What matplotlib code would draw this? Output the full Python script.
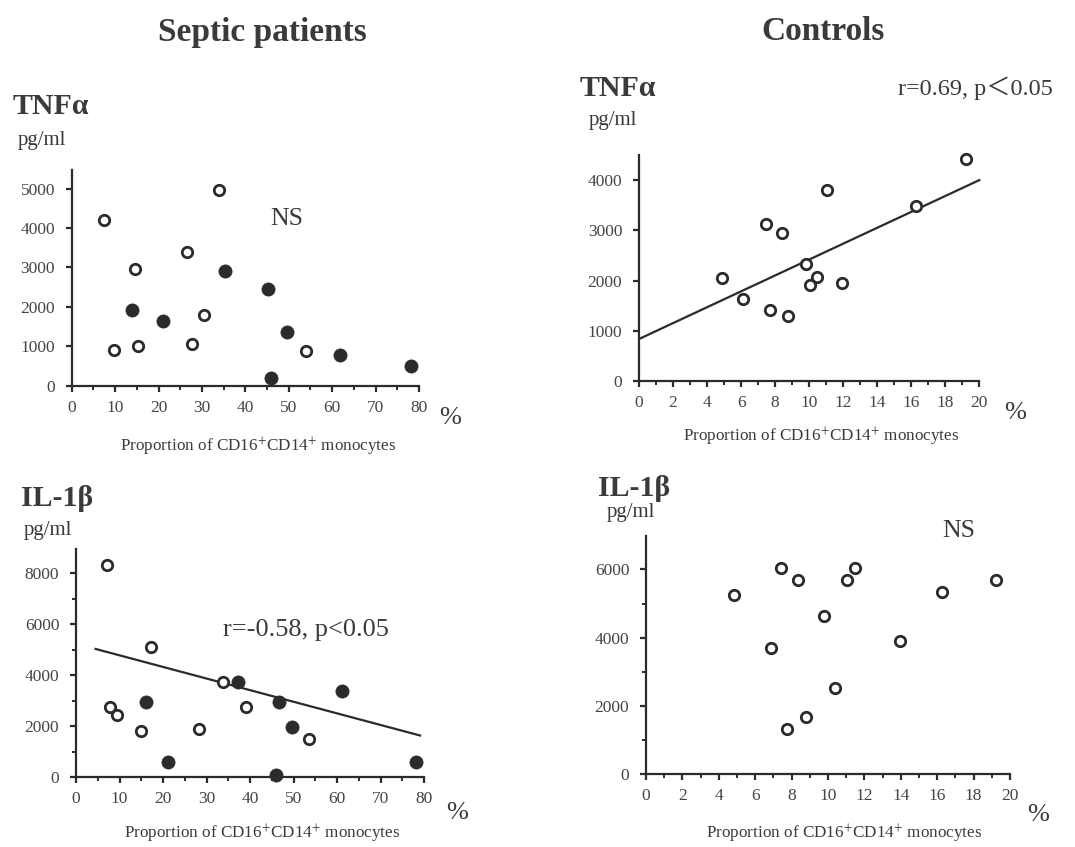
import numpy as np
import matplotlib
matplotlib.use('Agg')
import matplotlib.pyplot as plt
from matplotlib.ticker import MultipleLocator

plt.rcParams['font.family'] = ['Liberation Serif', 'DejaVu Serif']
plt.rcParams['mathtext.fontset'] = 'stix'

# septic patients, TNFa
sep_tnf_open_x = [7.5, 9.7, 14.6, 15.2, 26.5, 27.6, 30.5, 34.0, 53.9]
sep_tnf_open_y = [4200, 900, 2950, 1010, 3380, 1070, 1790, 4960, 890]
sep_tnf_fill_x = [14.0, 21.1, 35.3, 45.3, 46.0, 49.6, 61.7, 78.1]
sep_tnf_fill_y = [1920, 1640, 2910, 2440, 200, 1350, 790, 510]

# controls, TNFa
ctl_tnf_x = [4.86, 6.11, 7.48, 7.72, 8.38, 8.78, 9.79, 10.05, 10.44, 11.07, 11.93, 16.28, 19.22]
ctl_tnf_y = [2060, 1630, 3120, 1410, 2940, 1290, 2320, 1920, 2080, 3810, 1960, 3490, 4420]
ctl_tnf_fit = [836, 158.2]      # intercept, slope
ctl_tnf_fit_x = [0, 20]

# septic patients, IL-1b
sep_il_open_x = [7.05, 7.8, 9.5, 15.0, 17.2, 28.3, 33.9, 39.1, 53.6]
sep_il_open_y = [8330, 2770, 2440, 1830, 5100, 1880, 3720, 2750, 1500]
sep_il_fill_x = [16.0, 21.2, 37.2, 46.0, 46.7, 49.6, 61.1, 78.2]
sep_il_fill_y = [2970, 610, 3720, 100, 2970, 1990, 3400, 610]
sep_il_fit = [5237, -45.5]
sep_il_fit_x = [4.5, 79.1]

# controls, IL-1b
ctl_il_x = [4.84, 6.85, 7.40, 7.73, 8.35, 8.77, 9.76, 10.40, 11.03, 11.50, 13.96, 16.25, 19.23]
ctl_il_y = [5250, 3700, 6030, 1320, 5700, 1670, 4640, 2540, 5700, 6050, 3900, 5340, 5690]

W, H = 1075, 847
ink = '#2b2b2b'
txt = '#3a3a3a'


def px_axes(l, r, b, t):
    return fig.add_axes([l / W, 1 - b / H, (r - l) / W, (b - t) / H])


def ftext(x, y, s, **kw):
    kw.setdefault('color', txt)
    fig.text(x / W, 1 - y / H, s, **kw)


def style(ax, xmax, xmaj, xmin, ymax, ymaj, ymin):
    ax.set_xlim(0, xmax)
    ax.set_ylim(0, ymax)
    for s in ['top', 'right']:
        ax.spines[s].set_visible(False)
    for s in ['left', 'bottom']:
        ax.spines[s].set_linewidth(1.6)
        ax.spines[s].set_color(ink)
    ax.xaxis.set_major_locator(MultipleLocator(xmaj))
    ax.xaxis.set_minor_locator(MultipleLocator(xmin))
    ax.yaxis.set_major_locator(MultipleLocator(ymaj))
    if ymin:
        ax.yaxis.set_minor_locator(MultipleLocator(ymin))
    ax.tick_params(which='major', direction='out', length=4, width=1.6, color=ink,
                   labelsize=12.5, labelcolor='#454545', pad=6)
    ax.tick_params(axis='y', which='major', pad=8)
    ax.tick_params(which='minor', direction='out', length=3, width=1.4, color=ink)
    ax.patch.set_alpha(0)


def open_pts(ax, x, y):
    ax.plot(x, y, 'o', ms=7.5, mfc='white', mec=ink, mew=2.0, clip_on=False, zorder=3)


def fill_pts(ax, x, y):
    ax.plot(x, y, 'o', ms=9.5, mfc=ink, mec=ink, mew=0.5, clip_on=False, zorder=3)


xlab = 'Proportion of CD16$^{+}$CD14$^{+}$ monocytes'

fig = plt.figure(figsize=(10.75, 8.47), dpi=100)

# top left
ax1 = px_axes(71.7, 419, 385.7, 170)
style(ax1, 80, 10, 5, 5470, 1000, None)
open_pts(ax1, sep_tnf_open_x, sep_tnf_open_y)
fill_pts(ax1, sep_tnf_fill_x, sep_tnf_fill_y)
ax1.text(49.5, 4240, 'NS', fontsize=18.5, color=txt, ha='center', va='center')

# top right
ax2 = px_axes(639, 979.3, 381, 155)
style(ax2, 20, 2, 1, 4500, 1000, None)
open_pts(ax2, ctl_tnf_x, ctl_tnf_y)
fx = np.array(ctl_tnf_fit_x, dtype=float)
ax2.plot(fx, ctl_tnf_fit[0] + ctl_tnf_fit[1] * fx, color=ink, lw=1.6, clip_on=False)

# bottom left
ax3 = px_axes(76, 424, 777.3, 549)
style(ax3, 80, 10, 5, 8950, 2000, 1000)
open_pts(ax3, sep_il_open_x, sep_il_open_y)
fill_pts(ax3, sep_il_fill_x, sep_il_fill_y)
fx = np.array(sep_il_fit_x, dtype=float)
ax3.plot(fx, sep_il_fit[0] + sep_il_fit[1] * fx, color=ink, lw=1.6)
ax3.text(33.9, 5777, 'r=-0.58, p<0.05', fontsize=19, color=txt, ha='left', va='center')

# bottom right
ax4 = px_axes(646, 1010, 774.3, 535.7)
style(ax4, 20, 2, 1, 6990, 2000, 1000)
open_pts(ax4, ctl_il_x, ctl_il_y)
ax4.text(17.2, 7140, 'NS', fontsize=18.5, color=txt, ha='center', va='center', clip_on=False)

# headers
ftext(262, 32, 'Septic patients', fontsize=24, fontweight='bold', ha='center', va='center')
ftext(823, 32, 'Controls', fontsize=24, fontweight='bold', ha='center', va='center')

ftext(13, 107, 'TNF\u03b1', fontsize=21.5, fontweight='bold', ha='left', va='center')
ftext(18, 140, 'pg/ml', fontsize=15, ha='left', va='center')
ftext(580, 88, 'TNF\u03b1', fontsize=21.5, fontweight='bold', ha='left', va='center')
ftext(589, 120, 'pg/ml', fontsize=15, ha='left', va='center')
ftext(898, 88, 'r=0.69, p\uff1c0.05', fontsize=17.5, ha='left', va='center',
      family=['Liberation Serif', 'Noto Sans CJK JP'])

ftext(21, 498, 'IL-1\u03b2', fontsize=21.5, fontweight='bold', ha='left', va='center')
ftext(24, 530, 'pg/ml', fontsize=15, ha='left', va='center')
ftext(598, 488, 'IL-1\u03b2', fontsize=21.5, fontweight='bold', ha='left', va='center')
ftext(607, 512, 'pg/ml', fontsize=15, ha='left', va='center')

# % and x labels
for x, y in [(450, 418), (1015, 413), (457, 813), (1038, 815)]:
    ftext(x, y, '%', fontsize=19, ha='center', va='center')
for x, y in [(258, 447), (821, 437), (262, 834), (844, 834)]:
    ftext(x, y, xlab, fontsize=12.3, ha='center', va='center')

fig.savefig('out.png', dpi=100, facecolor='white')
